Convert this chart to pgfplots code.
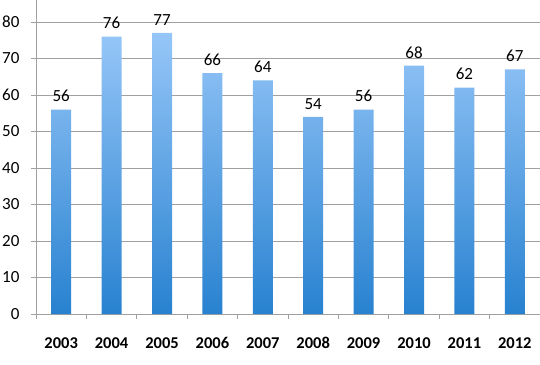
\documentclass[border=0pt]{standalone}
\usepackage{pgfplots}
\pgfplotsset{compat=1.18}
\usepackage{fontspec}
\setmainfont{Carlito}
\definecolor{barbot}{RGB}{40,130,208}
\definecolor{bartop}{RGB}{150,198,248}
\definecolor{gridc}{RGB}{160,160,160}
\begin{document}
\begin{tikzpicture}
\path[use as bounding box] (-36pt,-50pt) rectangle (504pt,314pt);
\begin{axis}[
  scale only axis,
  width=504pt, height=314pt,
  xmin=-0.5, xmax=9.5, ymin=0, ymax=86,
  axis lines*=left,
  axis line style={draw=gridc, line width=0.8pt},
  ytick={0,10,...,80},
  ymajorgrids,
  grid style={draw=gridc, line width=0.8pt},
  xtick={0,...,9},
  xticklabels={2003,2004,2005,2006,2007,2008,2009,2010,2011,2012},
  minor xtick={-0.5,0.5,...,9.5},
  major x tick style={draw=none},
  minor x tick style={draw=gridc, line width=0.8pt},
  y tick style={draw=gridc, line width=0.8pt},
  tick align=outside,
  major tick length=5pt, minor tick length=5pt,
  tick label style={font=\fontsize{17}{20}\selectfont},
  /pgf/number format/assume math mode=true,
  xticklabel style={font=\fontsize{16.5}{20}\selectfont\bfseries, yshift=-15pt},
  yticklabel style={xshift=-8pt},
  ybar, bar width=20pt,
  nodes near coords,
  nodes near coords style={font=\fontsize{17}{20}\selectfont, yshift=4pt},
]
\addplot[draw=none, shading=axis, bottom color=barbot, top color=bartop]
coordinates {(0,56) (1,76) (2,77) (3,66) (4,64) (5,54) (6,56) (7,68) (8,62) (9,67)};
\end{axis}
\end{tikzpicture}
\end{document}
